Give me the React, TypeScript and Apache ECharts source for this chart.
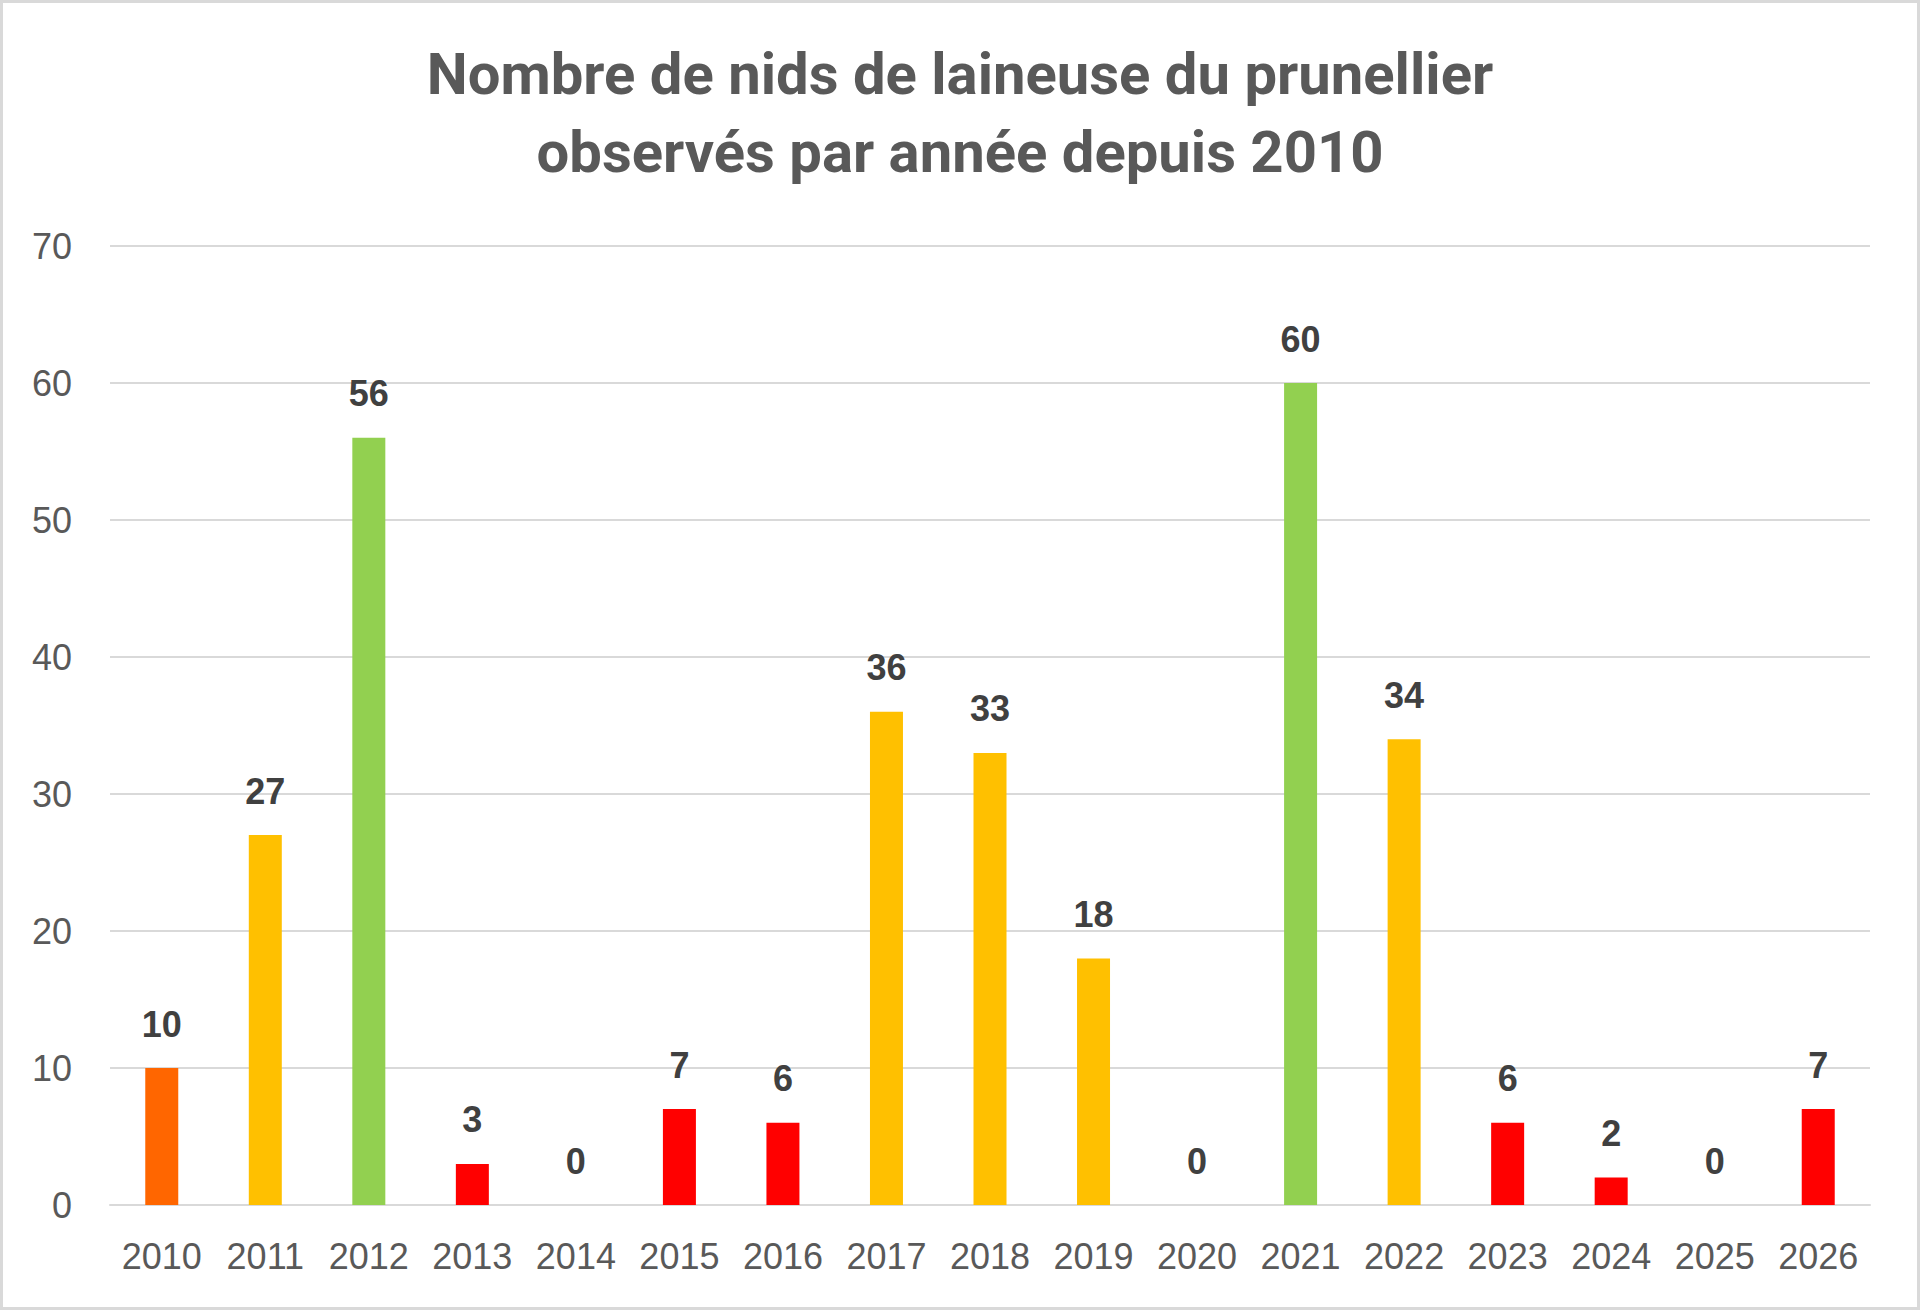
import React, { useEffect, useRef } from "react";
import * as echarts from "echarts";

const years = ["2010","2011","2012","2013","2014","2015","2016","2017","2018","2019","2020","2021","2022","2023","2024","2025","2026"];
const nests = [10, 27, 56, 3, 0, 7, 6, 36, 33, 18, 0, 60, 34, 6, 2, 0, 7];
const barColors = ["#FF6600","#FFC000","#92D050","#FF0000","#FF0000","#FF0000","#FF0000","#FFC000","#FFC000","#FFC000","#FF0000","#92D050","#FFC000","#FF0000","#FF0000","#FF0000","#FF0000"];
const titleLines = ["Nombre de nids de laineuse du prunellier", "observés par année depuis 2010"];

export default function App() {
  const ref = useRef<HTMLDivElement>(null);
  useEffect(() => {
    if (!ref.current) return;
    const chart = echarts.init(ref.current, undefined, { renderer: "svg" });
    chart.setOption({
      animation: false,
      backgroundColor: "#FFFFFF",
      graphic: [
        {
          type: "rect",
          shape: { x: 1.5, y: 1.5, width: 1917, height: 1307 },
          style: { fill: "none", stroke: "#D9D9D9", lineWidth: 3 },
          silent: true,
        },
      ],
      title: {
        text: titleLines.join("\n"),
        left: "center",
        top: 30,
        textStyle: {
          fontFamily: "Roboto",
          fontSize: 58,
          fontWeight: "bold",
          color: "#595959",
          lineHeight: 78,
        },
      },
      grid: { left: 110, right: 50, top: 246, bottom: 105, containLabel: false },
      xAxis: {
        type: "category",
        data: years,
        axisLine: { show: true, lineStyle: { color: "#D9D9D9", width: 2 } },
        axisTick: { show: false },
        axisLabel: { fontFamily: "Liberation Sans", fontSize: 36, color: "#595959", margin: 33, interval: 0 },
      },
      yAxis: {
        type: "value",
        min: 0,
        max: 70,
        interval: 10,
        axisLine: { show: false },
        axisTick: { show: false },
        splitLine: { lineStyle: { color: "#D9D9D9", width: 2 } },
        axisLabel: { fontFamily: "Liberation Sans", fontSize: 36, color: "#595959", margin: 38 },
      },
      series: [
        {
          type: "bar",
          data: nests.map((v, i) => ({ value: v, itemStyle: { color: barColors[i] } })),
          barWidth: 33,
          label: {
            show: true,
            position: "top",
            distance: 26,
            fontFamily: "Liberation Sans",
            fontSize: 36,
            fontWeight: "bold",
            color: "#404040",
          },
        },
      ],
    });
    return () => chart.dispose();
  }, []);
  return (
    <div
      ref={ref}
      style={{
        position: "fixed",
        left: 0,
        top: 0,
        width: 1920,
        height: 1310,
        background: "#FFFFFF",
      }}
    />
  );
}
